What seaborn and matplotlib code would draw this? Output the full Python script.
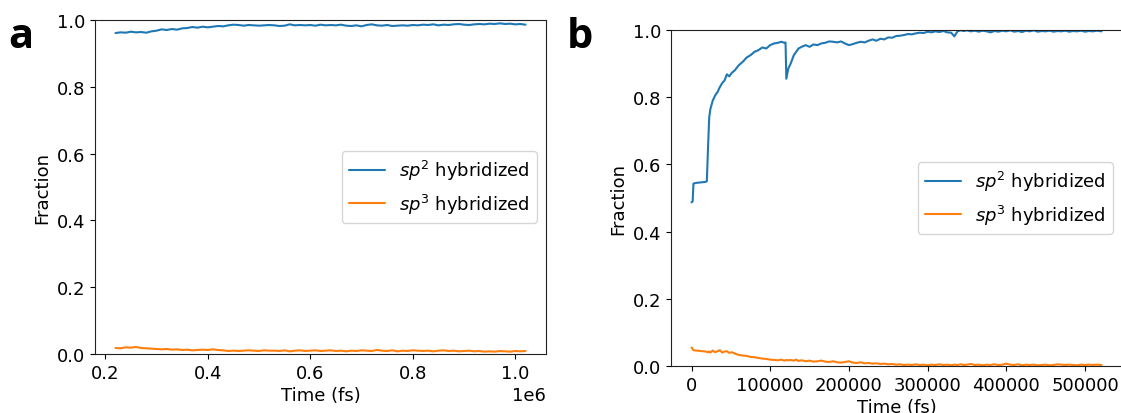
import matplotlib
matplotlib.use("Agg")
import matplotlib.pyplot as plt
from matplotlib.ticker import MultipleLocator
import seaborn as sns

# panel a: long run, time in fs
time_a = [220000, 230000, 240000, 250000, 260000, 270000, 280000, 290000, 300000,
          310000, 320000, 330000, 340000, 350000, 360000, 370000, 380000, 390000, 400000,
          410000, 420000, 430000, 440000, 450000, 460000, 470000, 480000, 490000, 500000,
          510000, 520000, 530000, 540000, 550000, 560000, 570000, 580000, 590000, 600000,
          610000, 620000, 630000, 640000, 650000, 660000, 670000, 680000, 690000, 700000,
          710000, 720000, 730000, 740000, 750000, 760000, 770000, 780000, 790000, 800000,
          810000, 820000, 830000, 840000, 850000, 860000, 870000, 880000, 890000, 900000,
          910000, 920000, 930000, 940000, 950000, 960000, 970000, 980000, 990000, 1000000,
          1010000, 1020000]
sp2_a = [0.961, 0.963, 0.962, 0.965, 0.963, 0.964, 0.962, 0.966, 0.968,
         0.972, 0.970, 0.973, 0.971, 0.975, 0.976, 0.979, 0.977, 0.980, 0.978,
         0.980, 0.982, 0.981, 0.984, 0.986, 0.985, 0.983, 0.985, 0.984, 0.983,
         0.984, 0.985, 0.984, 0.982, 0.983, 0.987, 0.984, 0.985, 0.984, 0.985,
         0.983, 0.986, 0.984, 0.985, 0.984, 0.986, 0.983, 0.982, 0.984, 0.981,
         0.985, 0.987, 0.984, 0.983, 0.985, 0.982, 0.983, 0.984, 0.983, 0.985,
         0.984, 0.986, 0.985, 0.987, 0.984, 0.986, 0.985, 0.987, 0.988, 0.986,
         0.985, 0.987, 0.988, 0.987, 0.989, 0.988, 0.990, 0.988, 0.989, 0.987,
         0.988, 0.986]
sp3_a = [0.018, 0.017, 0.020, 0.019, 0.021, 0.018, 0.017, 0.016, 0.015,
         0.014, 0.015, 0.013, 0.014, 0.012, 0.013, 0.011, 0.012, 0.013, 0.012,
         0.014, 0.012, 0.011, 0.009, 0.010, 0.009, 0.010, 0.011, 0.010, 0.009,
         0.011, 0.010, 0.010, 0.009, 0.011, 0.008, 0.010, 0.011, 0.009, 0.010,
         0.011, 0.009, 0.010, 0.011, 0.009, 0.010, 0.008, 0.010, 0.009, 0.011,
         0.010, 0.009, 0.012, 0.010, 0.009, 0.011, 0.008, 0.010, 0.009, 0.011,
         0.010, 0.009, 0.010, 0.008, 0.010, 0.011, 0.009, 0.010, 0.008, 0.009,
         0.010, 0.008, 0.009, 0.007, 0.008, 0.007, 0.009, 0.008, 0.007, 0.009,
         0.008, 0.009]

# panel b: annealing run from t = 0
time_b = [0, 1500, 2500, 6000, 10000, 14000, 18000, 19500, 21000, 22500,
          24000, 27000, 30000, 33000, 36000, 39000, 42000, 45000, 48000, 51000,
          55000, 60000, 65000, 70000, 75000, 80000, 85000, 90000, 95000, 100000,
          105000, 110000, 114000, 118000, 119500, 120500, 123000, 126000, 130000, 133000,
          136000, 140000, 145000, 150000, 155000, 160000, 165000, 170000, 175000, 180000,
          185000, 190000, 195000, 200000, 205000, 210000, 215000, 220000, 225000, 230000,
          235000, 240000, 245000, 250000, 255000, 260000, 265000, 270000, 275000, 280000,
          285000, 290000, 295000, 300000, 305000, 310000, 315000, 320000, 325000, 330000,
          334000, 338000, 342000, 346000, 350000, 355000, 360000, 365000, 370000, 375000,
          380000, 385000, 390000, 395000, 400000, 405000, 410000, 415000, 420000, 425000,
          430000, 435000, 440000, 445000, 450000, 455000, 460000, 465000, 470000, 475000,
          480000, 485000, 490000, 495000, 500000, 505000, 510000, 515000, 521000]
sp2_b = [0.487, 0.490, 0.543, 0.545, 0.546, 0.547, 0.548, 0.550, 0.650, 0.740,
         0.765, 0.790, 0.805, 0.815, 0.830, 0.842, 0.850, 0.868, 0.862, 0.872,
         0.880, 0.895, 0.905, 0.918, 0.925, 0.935, 0.940, 0.948, 0.945, 0.955,
         0.960, 0.962, 0.965, 0.962, 0.963, 0.855, 0.885, 0.900, 0.925, 0.935,
         0.945, 0.950, 0.955, 0.950, 0.957, 0.955, 0.960, 0.962, 0.966, 0.965,
         0.963, 0.966, 0.960, 0.955, 0.958, 0.962, 0.965, 0.963, 0.968, 0.972,
         0.968, 0.974, 0.972, 0.978, 0.977, 0.982, 0.983, 0.985, 0.988, 0.987,
         0.990, 0.992, 0.991, 0.995, 0.993, 0.996, 0.994, 0.997, 0.993, 0.992,
         0.981, 0.996, 0.999, 0.997, 0.999, 0.996, 0.998, 0.995, 0.998, 0.996,
         0.993, 0.997, 0.995, 0.998, 0.996, 0.999, 0.995, 0.997, 0.994, 0.998,
         0.996, 0.999, 0.995, 0.997, 0.996, 0.998, 0.995, 0.997, 0.996, 0.998,
         0.995, 0.997, 0.996, 0.998, 0.995, 0.997, 0.996, 0.998, 0.996]
sp3_b = [0.055, 0.050, 0.047, 0.046, 0.045, 0.044, 0.043, 0.042, 0.041, 0.043,
         0.040, 0.046, 0.041, 0.044, 0.047, 0.040, 0.043, 0.044, 0.039, 0.041,
         0.037, 0.033, 0.031, 0.030, 0.027, 0.026, 0.024, 0.022, 0.021, 0.019,
         0.018, 0.017, 0.019, 0.016, 0.017, 0.018, 0.017, 0.018, 0.016, 0.019,
         0.015, 0.017, 0.014, 0.016, 0.013, 0.014, 0.016, 0.013, 0.012, 0.014,
         0.011, 0.010, 0.012, 0.014, 0.010, 0.009, 0.011, 0.008, 0.009, 0.007,
         0.008, 0.006, 0.007, 0.005, 0.006, 0.004, 0.005, 0.003, 0.004, 0.003,
         0.005, 0.003, 0.004, 0.002, 0.004, 0.003, 0.005, 0.003, 0.004, 0.002,
         0.004, 0.003, 0.005, 0.003, 0.004, 0.006, 0.003, 0.004, 0.002, 0.004,
         0.003, 0.005, 0.003, 0.004, 0.007, 0.004, 0.003, 0.005, 0.002, 0.004,
         0.003, 0.004, 0.002, 0.003, 0.004, 0.002, 0.003, 0.005, 0.004, 0.003,
         0.004, 0.003, 0.002, 0.004, 0.003, 0.004, 0.003, 0.004, 0.003]

labels = [r"$sp^2$ hybridized", r"$sp^3$ hybridized"]
colors = ["#1f77b4", "#ff7f0e"]
fs = 13

sns.set_style("ticks", rc={
    "axes.edgecolor": "#222222",
    "axes.labelcolor": "black",
    "text.color": "black",
    "xtick.color": "black",
    "ytick.color": "black",
})
plt.rcParams.update({
    "font.family": ["DejaVu Sans"],
    "font.size": fs,
    "xtick.major.size": 3.5,
    "ytick.major.size": 3.5,
})

fig = plt.figure(figsize=(11.21, 4.14), dpi=100)
ax_a = fig.add_axes([95 / 1121, 59 / 414, 451 / 1121, 334 / 414])
ax_b = fig.add_axes([671 / 1121, 47 / 414, 451 / 1121, 336 / 414])

for ax, t, s2, s3 in [(ax_a, time_a, sp2_a, sp3_a), (ax_b, time_b, sp2_b, sp3_b)]:
    sns.lineplot(x=t, y=s2, ax=ax, color=colors[0], label=labels[0], linewidth=1.5)
    sns.lineplot(x=t, y=s3, ax=ax, color=colors[1], label=labels[1], linewidth=1.5)
    ax.set_ylim(0, 1.0)
    ax.set_xlabel("Time (fs)", fontsize=fs, labelpad=3)
    ax.set_ylabel("Fraction", fontsize=fs)
    ax.tick_params(labelsize=fs)
    ax.legend(loc="center right", fontsize=fs)

ax_a.xaxis.set_major_locator(MultipleLocator(200000))
ax_a.ticklabel_format(axis="x", style="sci", scilimits=(0, 0))
ax_a.xaxis.get_offset_text().set_fontsize(fs)
ax_b.ticklabel_format(axis="x", style="plain")

fig.text(8 / 1121, 1 - 48 / 414, "a", fontsize=30, fontweight="bold",
         family=["Open Sans", "DejaVu Sans"], va="baseline")
fig.text(567 / 1121, 1 - 48 / 414, "b", fontsize=30, fontweight="bold",
         family=["Open Sans", "DejaVu Sans"], va="baseline")

fig.savefig("out.png", dpi=100)
